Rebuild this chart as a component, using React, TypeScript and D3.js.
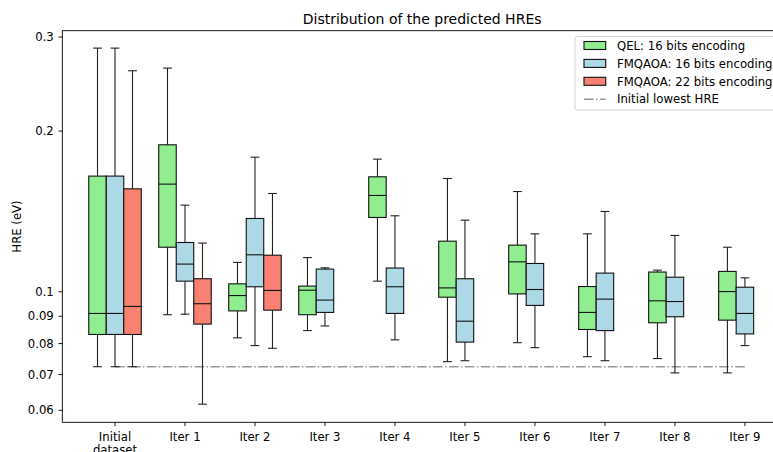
import React, { useEffect, useRef } from 'react';
import * as d3 from 'd3';

const categories = ['Initial\ndataset', 'Iter 1', 'Iter 2', 'Iter 3', 'Iter 4', 'Iter 5', 'Iter 6', 'Iter 7', 'Iter 8', 'Iter 9'];

// each row: [lower whisker, q1, median, q3, upper whisker]
const qel16 = [
  [0.0724, 0.0832, 0.0911, 0.1647, 0.286],
  [0.0906, 0.1212, 0.1591, 0.1885, 0.2624],
  [0.082, 0.0921, 0.0984, 0.1035, 0.1135],
  [0.0846, 0.0906, 0.1007, 0.1025, 0.1159],
  [0.1047, 0.1378, 0.1515, 0.1642, 0.1772],
  [0.074, 0.0977, 0.1017, 0.1244, 0.163],
  [0.0803, 0.0991, 0.1138, 0.1223, 0.1541],
  [0.0756, 0.085, 0.0915, 0.1023, 0.1284],
  [0.075, 0.0875, 0.0962, 0.1089, 0.1098],
  [0.0705, 0.0885, 0.1001, 0.1092, 0.1212],
];

const fmqaoa16 = [
  [0.0724, 0.0832, 0.0911, 0.1647, 0.286],
  [0.0908, 0.1047, 0.1127, 0.1237, 0.1453],
  [0.0793, 0.1022, 0.1173, 0.1372, 0.1787],
  [0.0863, 0.0915, 0.0965, 0.1103, 0.1109],
  [0.0813, 0.0911, 0.1022, 0.1108, 0.1388],
  [0.0743, 0.0805, 0.0881, 0.1058, 0.1362],
  [0.0786, 0.0943, 0.101, 0.113, 0.1284],
  [0.0743, 0.0846, 0.0969, 0.1084, 0.1414],
  [0.0705, 0.0898, 0.0959, 0.1065, 0.1275],
  [0.0793, 0.0834, 0.0911, 0.102, 0.1062],
];

// only the first three groups have a 22 bits run
const fmqaoa22 = [
  [0.0724, 0.0832, 0.0939, 0.1559, 0.2594],
  [0.0616, 0.087, 0.095, 0.1058, 0.1234],
  [0.0784, 0.0924, 0.1006, 0.1171, 0.1528],
];

const initialLowest = 0.0724;
const yTicks = [0.06, 0.07, 0.08, 0.09, 0.1, 0.2, 0.3];

const series = [
  { name: 'QEL: 16 bits encoding', color: '#90ee90', data: qel16, offset: -0.25 },
  { name: 'FMQAOA: 16 bits encoding', color: '#add8e6', data: fmqaoa16, offset: 0 },
  { name: 'FMQAOA: 22 bits encoding', color: '#fa8072', data: fmqaoa22, offset: 0.25 },
];

const W = 773;
const H = 452;
const FONT = 'DejaVu Sans, sans-serif';
const FS = 11.7;

const App = () => {
  const ref = useRef<SVGSVGElement>(null);

  useEffect(() => {
    document.body.style.margin = '0';
    const svg = d3.select(ref.current);
    svg.selectAll('*').remove();

    const left = 62.3;
    const right = 782;
    const top = 30.7;
    const bottom = 422.3;

    const x = d3.scaleLinear().domain([-0.753, 9.53]).range([left, right]);
    const y = d3.scaleLog().domain([0.05697, 0.3083]).range([bottom, top]);
    const boxW = x(0.25) - x(0);
    const capW = boxW / 2;

    // reference line
    svg
      .append('line')
      .attr('x1', x(0))
      .attr('x2', x(categories.length - 1))
      .attr('y1', y(initialLowest))
      .attr('y2', y(initialLowest))
      .attr('stroke', '#999')
      .attr('stroke-width', 1.4)
      .attr('stroke-dasharray', '9.6,2.4,1.5,2.4');

    // boxes
    series.forEach((s) => {
      s.data.forEach((d, i) => {
        const [lo, q1, med, q3, hi] = d;
        const cx = x(i + s.offset);
        const g = svg.append('g');
        const whisk = (a: number, b: number) => {
          g.append('line')
            .attr('x1', cx).attr('x2', cx)
            .attr('y1', y(a)).attr('y2', y(b))
            .attr('stroke', '#222').attr('stroke-width', 1.1);
          g.append('line')
            .attr('x1', cx - capW / 2).attr('x2', cx + capW / 2)
            .attr('y1', y(b)).attr('y2', y(b))
            .attr('stroke', '#222').attr('stroke-width', 1.1);
        };
        whisk(q1, lo);
        whisk(q3, hi);
        g.append('rect')
          .attr('x', cx - boxW / 2)
          .attr('y', y(q3))
          .attr('width', boxW)
          .attr('height', y(q1) - y(q3))
          .attr('fill', s.color)
          .attr('stroke', '#111')
          .attr('stroke-width', 1.1);
        g.append('line')
          .attr('x1', cx - boxW / 2).attr('x2', cx + boxW / 2)
          .attr('y1', y(med)).attr('y2', y(med))
          .attr('stroke', '#111').attr('stroke-width', 1.1);
      });
    });

    // spines
    svg.append('rect')
      .attr('x', left).attr('y', top)
      .attr('width', right - left).attr('height', bottom - top)
      .attr('fill', 'none').attr('stroke', '#000').attr('stroke-width', 0.9);

    // y axis
    const yAxis = svg.append('g');
    yTicks.forEach((t) => {
      yAxis.append('line')
        .attr('x1', left - 3.8).attr('x2', left)
        .attr('y1', y(t)).attr('y2', y(t))
        .attr('stroke', '#000').attr('stroke-width', 0.9);
      yAxis.append('text')
        .attr('x', left - 8.5)
        .attr('y', y(t))
        .attr('dy', '0.36em')
        .attr('text-anchor', 'end')
        .attr('font-family', FONT)
        .attr('font-size', FS)
        .text(String(t));
    });

    // x axis
    const xAxis = svg.append('g');
    categories.forEach((c, i) => {
      xAxis.append('line')
        .attr('x1', x(i)).attr('x2', x(i))
        .attr('y1', bottom).attr('y2', bottom + 3.8)
        .attr('stroke', '#000').attr('stroke-width', 0.9);
      const t = xAxis.append('text')
        .attr('text-anchor', 'middle')
        .attr('font-family', FONT)
        .attr('font-size', FS);
      c.split('\n').forEach((line, k) => {
        t.append('tspan')
          .attr('x', x(i))
          .attr('y', 440.5 + k * 13.6)
          .text(line);
      });
    });

    // titles
    svg.append('text')
      .attr('x', (left + right) / 2)
      .attr('y', 23.5)
      .attr('text-anchor', 'middle')
      .attr('font-family', FONT)
      .attr('font-size', 14)
      .text('Distribution of the predicted HREs');

    svg.append('text')
      .attr('transform', `translate(17,${(top + bottom) / 2}) rotate(-90)`)
      .attr('text-anchor', 'middle')
      .attr('dy', '0.36em')
      .attr('font-family', FONT)
      .attr('font-size', FS)
      .text('HRE (eV)');

    // legend
    const lg = svg.append('g');
    lg.append('rect')
      .attr('x', 575).attr('y', 36.5)
      .attr('width', 230).attr('height', 73.5)
      .attr('rx', 2.5)
      .attr('fill', 'white').attr('fill-opacity', 0.8)
      .attr('stroke', '#ccc').attr('stroke-width', 0.9);
    const rows = [...series.map((s) => ({ name: s.name, color: s.color })), { name: 'Initial lowest HRE', color: null }];
    rows.forEach((r, i) => {
      const ry = 45.5 + i * 17.9;
      if (r.color) {
        lg.append('rect')
          .attr('x', 584).attr('y', ry - 4)
          .attr('width', 21.7).attr('height', 8)
          .attr('fill', r.color).attr('stroke', '#111').attr('stroke-width', 1.1);
      } else {
        lg.append('line')
          .attr('x1', 584).attr('x2', 605.7)
          .attr('y1', ry).attr('y2', ry)
          .attr('stroke', '#999').attr('stroke-width', 1.4)
          .attr('stroke-dasharray', '9.6,2.4,1.5,2.4');
      }
      lg.append('text')
        .attr('x', 617)
        .attr('y', ry)
        .attr('dy', '0.36em')
        .attr('font-family', FONT)
        .attr('font-size', FS)
        .text(r.name);
    });
  }, []);

  return <svg ref={ref} width={W} height={H} style={{ display: 'block', background: 'white' }}></svg>;
};

export default App;
